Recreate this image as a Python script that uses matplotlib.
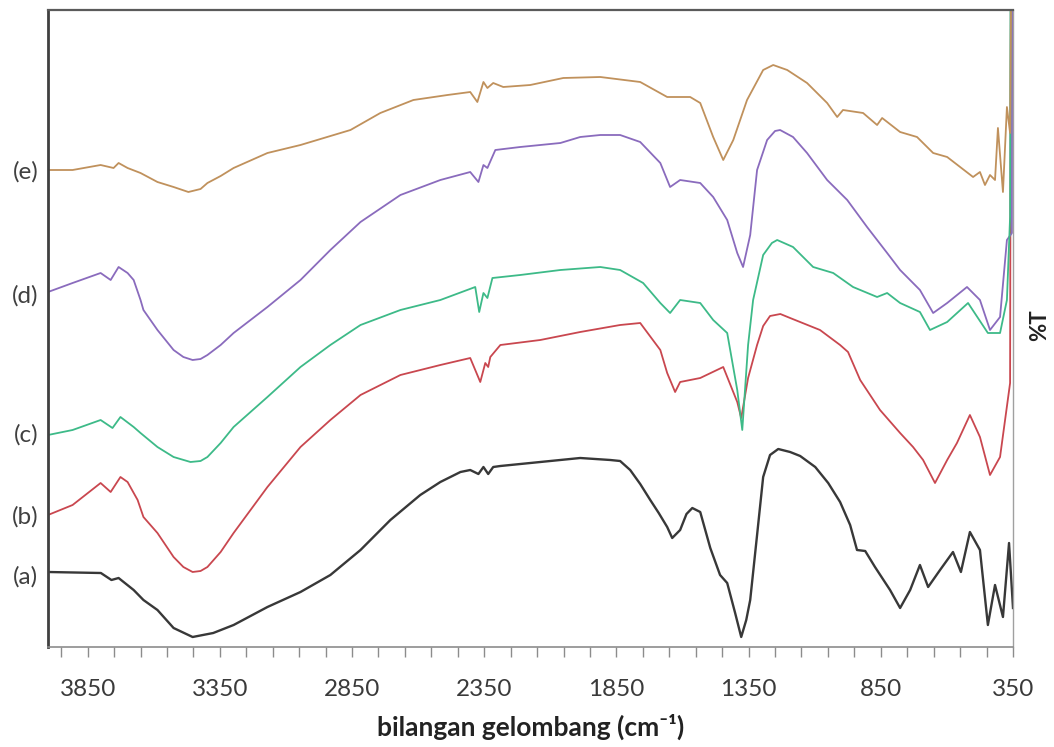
import matplotlib
matplotlib.use("Agg")
import matplotlib.pyplot as plt
import matplotlib.transforms as mtransforms
from matplotlib.ticker import FixedLocator

plt.rcParams['font.family'] = ['Lato', 'DejaVu Sans']

# spectra: wavenumber (cm-1) and trace height (plot rows, top = small)
wn_a = [4000, 3800, 3760, 3733, 3676, 3639, 3586, 3525, 3453, 3375, 3298, 3170, 3045, 2932,
        2818, 2705, 2592, 2516, 2440, 2403, 2372, 2353, 2335, 2316, 2289, 2138, 1987, 1873,
        1836, 1798, 1760, 1722, 1690, 1658, 1639, 1609, 1585, 1563, 1533, 1495, 1458, 1431,
        1401, 1378, 1359, 1344, 1318, 1295, 1269, 1238, 1193, 1155, 1098, 1049, 1004, 966,
        940, 909, 872, 815, 777, 739, 702, 671, 626, 577, 547, 513, 475, 445, 418, 388, 365,
        350]
t_a = [572, 573, 580, 578, 590, 600, 610, 628, 637, 633, 625, 607, 592, 575,
       550, 520, 495, 482, 472, 470, 474, 467, 474, 467, 466, 462, 458, 460,
       461, 470, 484, 500, 513, 527, 538, 530, 514, 508, 512, 548, 575, 583,
       613, 637, 620, 600, 535, 477, 455, 449, 452, 456, 467, 483, 502, 525,
       550, 551, 567, 590, 608, 590, 565, 587, 570, 552, 572, 532, 550, 625, 585, 617, 543,
       608]

wn_b = [4000, 3907, 3801, 3763, 3726, 3699, 3661, 3639, 3586, 3525, 3488, 3453, 3423, 3397,
        3347, 3298, 3170, 3045, 2932, 2818, 2667, 2516, 2403, 2365, 2346, 2335, 2327, 2289,
        2138, 1987, 1836, 1760, 1684, 1658, 1628, 1609, 1533, 1446, 1393, 1378, 1352, 1318,
        1295, 1269, 1230, 1193, 1080, 1004, 974, 928, 853, 777, 728, 690, 645, 599, 562,
        513, 475, 437, 399, 361, 358]
t_b = [515, 505, 483, 492, 477, 482, 500, 517, 533, 557, 567, 572, 571, 567,
       552, 533, 487, 447, 420, 395, 375, 365, 358, 382, 363, 367, 357, 345,
       340, 332, 325, 323, 350, 373, 392, 382, 378, 367, 402, 418, 378, 345,
       326, 316, 314, 318, 330, 345, 352, 380, 410, 433, 447, 460, 483, 460, 443,
       415, 437, 475, 457, 383, -50]

wn_c = [4000, 3907, 3801, 3756, 3726, 3676, 3650, 3586, 3525, 3461, 3423, 3397, 3347, 3298,
        3170, 3045, 2932, 2818, 2667, 2516, 2384, 2369, 2353, 2338, 2319, 2214, 2062, 1911,
        1836, 1749, 1684, 1647, 1609, 1533, 1484, 1431, 1393, 1374, 1352, 1333, 1295, 1262,
        1242, 1182, 1106, 1030, 955, 864, 826, 777, 702, 664, 599, 520, 445, 399, 373, 361,
        359]
t_c = [435, 430, 420, 428, 417, 427, 433, 447, 457, 462, 461, 457, 443, 427,
       397, 367, 345, 325, 310, 300, 287, 312, 293, 298, 278, 275, 270, 267,
       270, 283, 303, 313, 300, 303, 320, 333, 390, 430, 345, 300, 255, 243,
       240, 247, 267, 273, 287, 297, 293, 303, 312, 330, 322, 303, 333, 333, 300, 217,
       -50]

wn_d = [4000, 3907, 3801, 3763, 3733, 3699, 3676, 3650, 3639, 3586, 3525, 3488, 3453, 3423,
        3397, 3347, 3298, 3170, 3045, 2932, 2818, 2667, 2516, 2403, 2372, 2353, 2338, 2308,
        2214, 2062, 1987, 1911, 1836, 1760, 1684, 1647, 1609, 1533, 1484, 1431, 1393, 1371,
        1344, 1318, 1280, 1250, 1231, 1182, 1129, 1053, 977, 902, 826, 777, 702, 652, 599,
        524, 475, 437, 399, 373, 354, 353]
t_d = [292, 283, 273, 280, 267, 273, 280, 300, 310, 330, 350, 357, 360, 359,
       355, 345, 333, 307, 280, 250, 222, 195, 180, 172, 182, 165, 168, 150,
       147, 143, 137, 135, 135, 142, 163, 187, 180, 183, 197, 220, 253, 267,
       235, 170, 140, 131, 130, 137, 153, 180, 200, 227, 253, 270, 290, 313, 303,
       287, 300, 330, 317, 240, 233, -50]

wn_e = [4000, 3907, 3801, 3752, 3733, 3699, 3650, 3586, 3525, 3469, 3423, 3397, 3347, 3298,
        3170, 3045, 2856, 2743, 2618, 2489, 2403, 2376, 2353, 2338, 2316, 2278, 2176, 2051,
        1911, 1760, 1658, 1571, 1533, 1484, 1446, 1408, 1356, 1295, 1257, 1204, 1129, 1053,
        1015, 993, 917, 864, 845, 777, 713, 652, 599, 550, 501, 475, 456, 437, 418, 407,
        388, 373, 361, 356]
t_e = [170, 170, 165, 168, 163, 168, 173, 182, 187, 192, 189, 183, 176, 168,
       153, 145, 130, 113, 100, 95, 92, 102, 82, 88, 83, 87, 85, 78,
       77, 82, 97, 97, 103, 137, 160, 140, 100, 70, 65, 70, 83, 103,
       117, 110, 113, 125, 118, 132, 137, 153, 157, 167, 177, 172, 185, 175, 180, 128,
       192, 107, 133, -50]

labels = ['(a)', '(b)', '(c)', '(d)', '(e)']
label_rows = [577, 517, 435, 296, 172]
colors = ['#383838', '#c9474f', '#3dba88', '#8a6bbd', '#c0915c']

fig = plt.figure(figsize=(10.54, 7.47), dpi=100)
ax = fig.add_axes([48/1054, 100/747, 965/1054, 637/747])

ax.plot(wn_a, t_a, color=colors[0], lw=1.7)
ax.plot(wn_b, t_b, color=colors[1], lw=1.3)
ax.plot(wn_d, t_d, color=colors[3], lw=1.3)
ax.plot(wn_c, t_c, color=colors[2], lw=1.3)
ax.plot(wn_e, t_e, color=colors[4], lw=1.3)

ax.set_xlim(4000, 350)
ax.set_ylim(647, 10)

ax.xaxis.set_major_locator(FixedLocator([3850, 3350, 2850, 2350, 1850, 1350, 850, 350]))
ax.xaxis.set_minor_locator(FixedLocator(list(range(3950, 349, -100))))
ax.tick_params(axis='x', which='both', direction='out', length=7, width=1,
               color='#8c8c8c', labelsize=17.5, labelcolor='#3a3a3a', pad=16)
ax.set_yticks([])

ax.spines['left'].set_color('#404040')
ax.spines['left'].set_linewidth(2)
ax.spines['top'].set_color('#5a5a5a')
ax.spines['top'].set_linewidth(1.6)
ax.spines['bottom'].set_color('#8c8c8c')
ax.spines['bottom'].set_linewidth(1.2)
ax.spines['right'].set_color('#a0a0a0')
ax.spines['right'].set_linewidth(1)

ax.set_xlabel('bilangan gelombang (cm\u207b\u00b9)', fontsize=19, fontweight='bold',
              color='#222222', labelpad=10)

trans = mtransforms.blended_transform_factory(ax.transAxes, ax.transData)
for lab, row in zip(labels, label_rows):
    ax.text(-0.01, row, lab, transform=trans, ha='right', va='center',
            fontsize=17.5, color='#404040')

fig.text(1040/1054, 1 - 325/747, '%T', rotation=90, ha='center', va='center',
         fontsize=16, fontweight='bold', color='#222222')

fig.savefig('out.png', dpi=100)
